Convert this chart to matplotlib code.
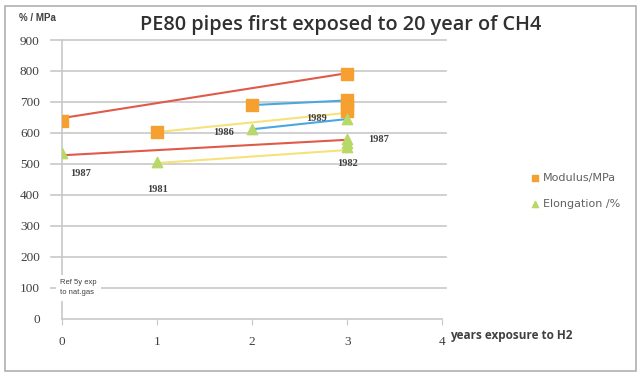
import matplotlib
matplotlib.use("Agg")
import matplotlib.pyplot as plt
from matplotlib.patches import Rectangle

# measured points
mod_x = [0, 1, 2, 3, 3, 3, 3]
mod_y = [640, 603, 690, 790, 707, 690, 672]
elo_x = [0, 1, 2, 3, 3, 3, 3]
elo_y = [535, 505, 612, 645, 582, 567, 555]

# trend lines joining the same pipe batch
trend_lines = [
    ([0, 3], [648, 793], "#e05a4a"),
    ([0, 3], [528, 578], "#e05a4a"),
    ([2, 3], [690, 705], "#4aa8e0"),
    ([2, 3], [612, 645], "#4aa8e0"),
    ([1, 3], [603, 665], "#f5e27a"),
    ([1, 3], [503, 545], "#f5e27a"),
]

# batch years
year_labels = ["1987", "1981", "1986", "1989", "1987", "1982"]
year_x = [0.2, 1.0, 1.7, 2.68, 3.33, 3.0]
year_y = [468, 416, 600, 648, 580, 503]

yticks = [0, 100, 200, 300, 400, 500, 600, 700, 800, 900]
xticks = [0, 1, 2, 3, 4]

fig = plt.figure(figsize=(6.4, 3.81), dpi=100)
fig.patches.append(Rectangle((0.008, 0.025), 0.985, 0.96, transform=fig.transFigure,
                             fill=False, edgecolor="#b0b0b0", linewidth=1.2))

ax = fig.add_axes([0.097, 0.163, 0.594, 0.732])
ax.set_xlim(0, 4)
ax.set_ylim(0, 900)

for y in yticks[1:]:
    ax.axhline(y, xmin=-0.03, xmax=1.01, color="#c8c8c8", linewidth=1.2, zorder=0, clip_on=False)

for xs, ys, c in trend_lines:
    ax.plot(xs, ys, color=c, linewidth=1.5, zorder=2)

ax.scatter(mod_x, mod_y, marker="s", s=70, color="#f5a030", zorder=3, label="Modulus/MPa")
ax.scatter(elo_x, elo_y, marker="^", s=55, color="#b8d868", zorder=3, label="Elongation /%")

for t, x, y in zip(year_labels, year_x, year_y):
    ax.text(x, y, t, fontsize=7.5, family="Liberation Serif", weight="bold", color="#404040",
            ha="center", va="center")

ax.text(-0.02, 100, "Ref 5y exp\nto nat.gas", fontsize=5.5, family="Liberation Sans", color="#404040",
        ha="left", va="center", linespacing=1.6,
        bbox=dict(facecolor="white", edgecolor="none", pad=3))

for s in ["top", "right"]:
    ax.spines[s].set_visible(False)
ax.spines["left"].set_color("#c8c8c8")
ax.spines["bottom"].set_color("#c8c8c8")
ax.spines["left"].set_linewidth(1.2)
ax.spines["bottom"].set_linewidth(1.2)

ax.set_yticks(yticks)
ax.set_xticks(xticks)
ax.tick_params(axis="both", colors="#c8c8c8", labelcolor="#404040", labelsize=9.5)
ax.tick_params(axis="x", pad=8, length=4)
ax.tick_params(axis="y", pad=16, length=0)
for lab in ax.get_xticklabels() + ax.get_yticklabels():
    lab.set_family("Liberation Serif")

fig.text(0.03, 0.945, "% / MPa", fontsize=7, family="Liberation Sans", color="#404040", weight="bold")
fig.text(0.532, 0.922, "PE80 pipes first exposed to 20 year of CH4", fontsize=14.3,
         family="Open Sans", color="#303030", ha="center", weight="semibold")
fig.text(0.703, 0.11, "years exposure to H2", fontsize=8.5, family="Open Sans",
         weight="bold", color="#404040")

ax.legend(loc="upper left", bbox_to_anchor=(1.2, 0.56), frameon=False, fontsize=8,
          handletextpad=0.1, labelspacing=1.5, markerscale=0.6, handlelength=1.2,
          labelcolor="#606060")

fig.savefig("out.png", dpi=100)
